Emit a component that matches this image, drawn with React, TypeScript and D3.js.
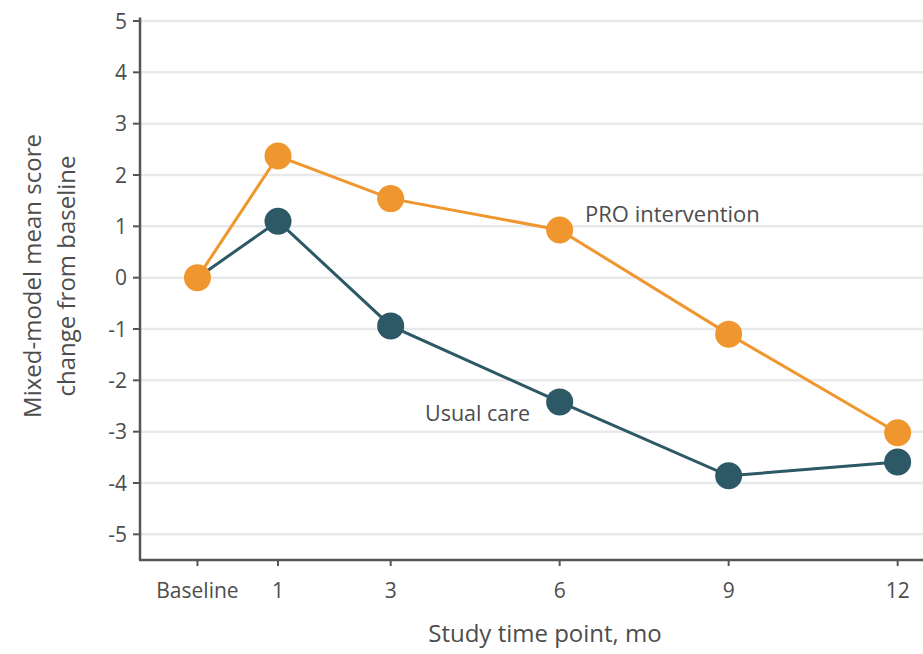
import React from "react";
import * as d3 from "d3";

const months = [-0.43, 1, 3, 6, 9, 12];
const tickLabels = ["Baseline", "1", "3", "6", "9", "12"];
const proValues = [0, 2.37, 1.54, 0.93, -1.1, -3.02];
const usualValues = [0, 1.1, -0.94, -2.42, -3.86, -3.59];
const yTicks = [5, 4, 3, 2, 1, 0, -1, -2, -3, -4, -5];

const W = 923;
const H = 654;
const FONT = "'Open Sans', 'DejaVu Sans', sans-serif";
const ORANGE = "#f0962e";
const TEAL = "#2d5866";
const TEXT = "#4d4d4d";

export default function App() {
  const x = d3.scaleLinear().domain([-1.45, 12.45]).range([140, 923]);
  const y = d3.scaleLinear().domain([-5.5, 5]).range([560, 21]);
  const line = d3
    .line<number>()
    .x((_, i) => x(months[i]))
    .y((d) => y(d));

  return (
    <svg
      width={W}
      height={H}
      style={{ position: "absolute", left: 0, top: 0, background: "#fff" }}
      fontFamily={FONT}
      fontWeight={500}
    >
      {yTicks.map((t) => (
        <g key={t}>
          <line x1={140} x2={W} y1={y(t)} y2={y(t)} stroke="#e7e9eb" strokeWidth={2.5} />
          <line x1={133} x2={140} y1={y(t)} y2={y(t)} stroke="#555" strokeWidth={2} />
          <text x={127} y={y(t)} dy="0.36em" textAnchor="end" fontSize={21} fill={TEXT}>
            {t < 0 ? "-" + Math.abs(t) : t}
          </text>
        </g>
      ))}
      <line x1={140} x2={140} y1={y(5.07)} y2={y(-5.5)} stroke="#555" strokeWidth={2.5} />
      <line x1={139} x2={W} y1={y(-5.5)} y2={y(-5.5)} stroke="#555" strokeWidth={2.5} />
      {months.map((m, i) => (
        <g key={i}>
          <line x1={x(m)} x2={x(m)} y1={y(-5.5)} y2={y(-5.5) + 6} stroke="#555" strokeWidth={2} />
          <text x={x(m)} y={598} textAnchor="middle" fontSize={21} fill={TEXT}>
            {tickLabels[i]}
          </text>
        </g>
      ))}
      <text x={545} y={642} textAnchor="middle" fontSize={24} fill={TEXT}>
        Study time point, mo
      </text>
      <g transform="translate(41,276) rotate(-90)">
        <text x={0} y={0} textAnchor="middle" fontSize={24} fill={TEXT}>
          Mixed-model mean score
        </text>
        <text x={0} y={34} textAnchor="middle" fontSize={24} fill={TEXT}>
          change from baseline
        </text>
      </g>

      <path d={line(usualValues) || ""} fill="none" stroke={TEAL} strokeWidth={3} />
      <path d={line(proValues) || ""} fill="none" stroke={ORANGE} strokeWidth={3} />
      {usualValues.map((v, i) =>
        i === 0 ? null : <circle key={"u" + i} cx={x(months[i])} cy={y(v)} r={13.5} fill={TEAL} />
      )}
      {proValues.map((v, i) => (
        <circle key={"p" + i} cx={x(months[i])} cy={y(v)} r={13.5} fill={ORANGE} />
      ))}
      <text x={585} y={222} fontSize={22} fill={TEXT}>
        PRO intervention
      </text>
      <text x={425} y={421} fontSize={21.5} fill={TEXT}>
        Usual care
      </text>
    </svg>
  );
}
